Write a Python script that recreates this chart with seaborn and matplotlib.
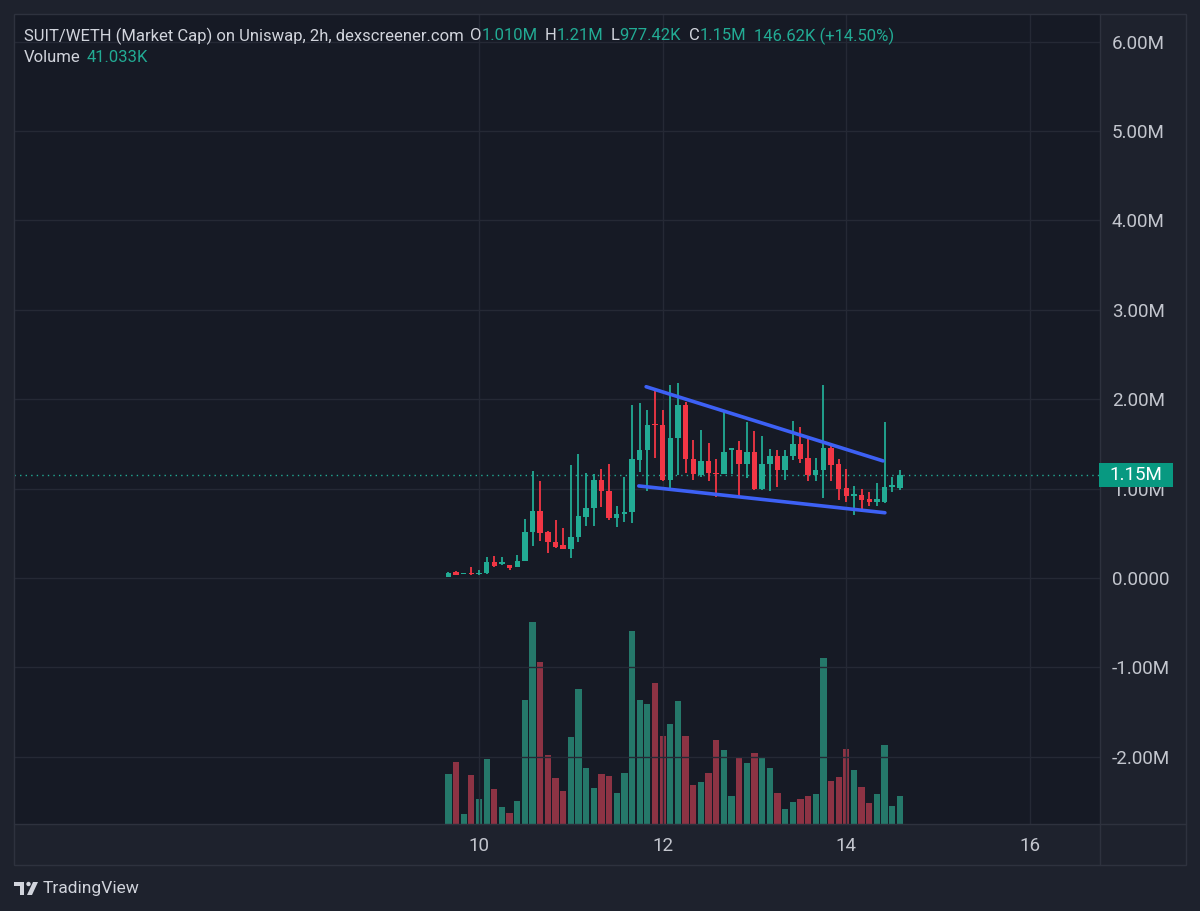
import numpy as np
import matplotlib
matplotlib.use("Agg")
import matplotlib.pyplot as plt
import matplotlib.patches as mpatches
from matplotlib.transforms import IdentityTransform
import seaborn as sns

# SUIT/WETH market cap, 2h candles (values in millions)
opens = [0.01, 0.07, 0.045, 0.05, 0.04, 0.06, 0.18, 0.16, 0.15, 0.12,
         0.19, 0.51, 0.75, 0.51, 0.40, 0.37, 0.33, 0.46, 0.68, 0.78,
         1.10, 0.97, 0.67, 0.72, 0.74, 1.32, 1.43, 1.72, 1.71, 1.10,
         1.57, 1.94, 1.33, 1.15, 1.31, 1.18, 1.16, 1.43, 1.43, 1.27,
         1.41, 1.00, 1.27, 1.37, 1.21, 1.36, 1.50, 1.34, 1.15, 1.21,
         1.46, 1.27, 1.01, 0.92, 0.93, 0.88, 0.85, 0.85, 1.02, 1.01]
highs = [0.07, 0.08, 0.05, 0.12, 0.09, 0.23, 0.25, 0.24, 0.15, 0.26,
         0.66, 1.20, 1.09, 0.53, 0.65, 0.56, 1.26, 1.39, 1.18, 1.16,
         1.22, 1.27, 0.80, 1.13, 1.94, 1.96, 1.88, 2.10, 1.88, 2.16,
         2.18, 1.97, 1.54, 1.66, 1.51, 1.33, 1.88, 1.46, 1.53, 1.74,
         1.65, 1.59, 1.44, 1.43, 1.43, 1.76, 1.69, 1.58, 1.34, 2.16,
         1.50, 1.33, 1.22, 1.03, 1.00, 0.96, 1.06, 1.75, 1.13, 1.21]
lows = [0.01, 0.03, 0.04, 0.03, 0.03, 0.05, 0.12, 0.14, 0.09, 0.12,
        0.19, 0.36, 0.41, 0.28, 0.34, 0.32, 0.22, 0.40, 0.58, 0.58,
        0.79, 0.65, 0.57, 0.63, 0.62, 1.19, 0.97, 1.34, 1.08, 0.97,
        1.15, 1.17, 1.10, 1.13, 1.08, 0.91, 1.16, 1.16, 0.92, 1.12,
        0.99, 0.99, 0.97, 1.02, 1.10, 1.32, 1.29, 1.09, 1.09, 0.90,
        1.09, 0.87, 0.85, 0.70, 0.77, 0.80, 0.80, 0.84, 0.96, 0.98]
closes = [0.06, 0.03, 0.05, 0.04, 0.06, 0.18, 0.13, 0.17, 0.11, 0.19,
          0.51, 0.75, 0.50, 0.40, 0.35, 0.33, 0.46, 0.69, 0.78, 1.10,
          0.97, 0.67, 0.72, 0.74, 1.33, 1.43, 1.71, 1.71, 1.10, 1.57,
          1.94, 1.33, 1.16, 1.31, 1.17, 1.16, 1.41, 1.45, 1.27, 1.41,
          1.00, 1.27, 1.37, 1.21, 1.37, 1.50, 1.33, 1.15, 1.21, 1.46,
          1.26, 1.00, 0.92, 0.93, 0.87, 0.85, 0.88, 1.02, 1.03, 1.15]
up_flags = [1, 0, 1, 0, 1, 1, 0, 1, 0, 1,
            1, 1, 0, 0, 0, 0, 1, 1, 1, 1,
            0, 0, 1, 1, 1, 1, 1, 0, 0, 1,
            1, 0, 0, 1, 0, 0, 1, 1, 0, 1,
            0, 1, 1, 0, 1, 1, 0, 0, 1, 1,
            0, 0, 0, 1, 0, 0, 1, 1, 1, 1]
# volume in thousands
volumes_k = [72.5, 90.3, 14.5, 70.6, 35.8, 94.7, 51.2, 25.1, 16.0, 33.8,
             179.8, 292.5, 235.3, 100.5, 66.7, 48.3, 126.6, 195.8, 81.6, 52.6,
             72.9, 69.2, 45.4, 74.4, 279.4, 179.8, 174.0, 204.5, 128.0, 145.0,
             177.9, 128.0, 57.0, 61.3, 74.4, 122.2, 107.3, 41.0, 97.6, 88.5,
             103.0, 96.7, 80.8, 45.4, 22.2, 32.3, 36.7, 40.6, 43.5, 240.7,
             62.8, 68.6, 108.3, 77.9, 53.7, 30.9, 43.9, 114.6, 26.1, 41.0]
first_bar_day = 9 + 16 / 24      # first candle: 9th, 16:00
bar_step_day = 2 / 24            # 2h candles

upper_x, upper_y = [11.82, 14.40], [2.14, 1.31]
lower_x, lower_y = [11.74, 14.42], [1.03, 0.73]
last_price = 1.15

price_ticks = [-2, -1, 0, 1, 2, 3, 4, 5, 6]
price_labels = ["-2.00M", "-1.00M", "0.0000", "1.00M", "2.00M", "3.00M",
                "4.00M", "5.00M", "6.00M"]
day_ticks = [10, 12, 14, 16]

BG = "#1e222d"
PANE = "#161a25"
GRID = "#252935"
BORDER = "#2e323e"
TXT = "#d1d4dc"
TICK = "#c3c6ce"
UP = "#22ab94"
DOWN = "#f23645"
VOL_UP = "#25786a"
VOL_DOWN = "#8d3344"
BLUE = "#3d61f5"

sns.set_theme(style="dark", rc={"axes.facecolor": PANE, "figure.facecolor": BG})
plt.rcParams["font.family"] = ["Roboto", "DejaVu Sans"]

W, H = 1200, 911
fig = plt.figure(figsize=(W / 100, H / 100), dpi=100)

x0, x1, y0, y1 = 14, 1100, 14, 824
pos = [x0 / W, 1 - y1 / H, (x1 - x0) / W, (y1 - y0) / H]

axv = fig.add_axes(pos)
axv.set_facecolor(PANE)
ax = fig.add_axes(pos, sharex=axv)
ax.patch.set_visible(False)

t = first_bar_day + np.arange(len(opens)) * bar_step_day
o = np.array(opens); h = np.array(highs); l = np.array(lows); c = np.array(closes)
up = np.array(up_flags, dtype=bool)
cols = np.where(up, UP, DOWN)
vcols = np.where(up, VOL_UP, VOL_DOWN)

# volume overlay
axv.bar(t, volumes_k, width=bar_step_day * 0.82, color=vcols, linewidth=0)
axv.set_ylim(0, (y1 - y0) * 1.45)
axv.set_yticks([])
for s in axv.spines.values():
    s.set_visible(False)

# candles
ax.vlines(t, l, h, colors=cols, linewidth=1.3, zorder=3)
bottom = np.minimum(o, c)
height = np.maximum(np.abs(c - o), 0.015)
ax.bar(t, height, bottom=bottom, width=bar_step_day * 0.72, color=cols,
       linewidth=0, zorder=4)

# trend lines
sns.lineplot(x=upper_x, y=upper_y, ax=ax, color=BLUE, linewidth=2.6, zorder=5)
sns.lineplot(x=lower_x, y=lower_y, ax=ax, color=BLUE, linewidth=2.6, zorder=5)

ax.axhline(last_price, color=UP, linewidth=1, linestyle=(0, (1, 3)), zorder=2)

ppm = 89.38
ax.set_ylim((578 - y1) / ppm, (578 - y0) / ppm)
dpp = 91.83
ax.set_xlim(10 + (x0 - 479) / dpp, 10 + (x1 - 479) / dpp)

ax.set_yticks(price_ticks)
ax.set_yticklabels(price_labels)
ax.set_xticks(day_ticks)
ax.set_xticklabels([str(d) for d in day_ticks])
ax.yaxis.tick_right()
ax.tick_params(axis="y", length=0, pad=8.6, labelsize=13.5, colors=TICK)
ax.tick_params(axis="x", length=0, pad=9.5, labelsize=13.5, colors=TICK)
axv.tick_params(axis="x", length=0, labelbottom=False)
ax.grid(True, color=GRID, linewidth=1)
ax.set_xlabel("")
ax.set_ylabel("")
for s in ax.spines.values():
    s.set_visible(False)

# pane frame and separators (display pixels, y flipped)
ident = IdentityTransform()
fig.patches.append(mpatches.Rectangle((14, H - 865), 1186 - 14, 865 - 14,
                                      transform=ident, fill=False,
                                      edgecolor=BORDER, linewidth=1, zorder=0.5))
fig.lines.append(plt.Line2D([14, 1186], [H - 824, H - 824], transform=ident,
                            color=BORDER, linewidth=1))
fig.lines.append(plt.Line2D([1100, 1100], [H - 14, H - 865], transform=ident,
                            color=BORDER, linewidth=1))

# last price label (covers the top of the 1.00M tick, as in TradingView)
yp = ax.transData.transform((0, last_price))[1]
fig.patches.append(mpatches.Rectangle((1099, yp - 12), 74, 24, transform=ident,
                                      facecolor="#089981", edgecolor="none",
                                      zorder=5))
fig.text(1136 / W, yp / H, "1.15M", color="white", fontsize=13.5,
         ha="center", va="center", zorder=6)

# legend header
renderer = fig.canvas.get_renderer()


def header_line(y_px, pieces):
    x = 24
    for txt, col, gap in pieces:
        tt = fig.text(x / W, 1 - y_px / H, txt, color=col, fontsize=12,
                      ha="left", va="center")
        bb = tt.get_window_extent(renderer=renderer)
        x = bb.x1 + gap


header_line(36, [("SUIT/WETH (Market Cap) on Uniswap, 2h, dexscreener.com", TXT, 6),
                 ("O", TXT, 0), ("1.010M", UP, 7),
                 ("H", TXT, 0), ("1.21M", UP, 8),
                 ("L", TXT, 0), ("977.42K", UP, 8),
                 ("C", TXT, 0), ("1.15M", UP, 7),
                 ("146.62K (+14.50%)", UP, 0)])
header_line(58, [("Volume", TXT, 6), ("41.033K", UP, 0)])

# TradingView footer logo
fig.patches.append(mpatches.Rectangle((14, H - 886), 10, 4, transform=ident,
                                      facecolor=TXT, edgecolor="none"))
fig.patches.append(mpatches.Rectangle((20, H - 895), 4, 13, transform=ident,
                                      facecolor=TXT, edgecolor="none"))
fig.patches.append(mpatches.Circle((28.5, H - 884), 2.2, transform=ident,
                                   facecolor=TXT, edgecolor="none"))
fig.patches.append(mpatches.Polygon([(33, H - 882), (38, H - 882), (32, H - 895),
                                     (27, H - 895)], closed=True, transform=ident,
                                    facecolor=TXT, edgecolor="none"))
fig.text(43 / W, 1 - 889 / H, "TradingView", color=TXT, fontsize=12.5,
         ha="left", va="center")

fig.savefig("out.png", dpi=100, facecolor=BG)
